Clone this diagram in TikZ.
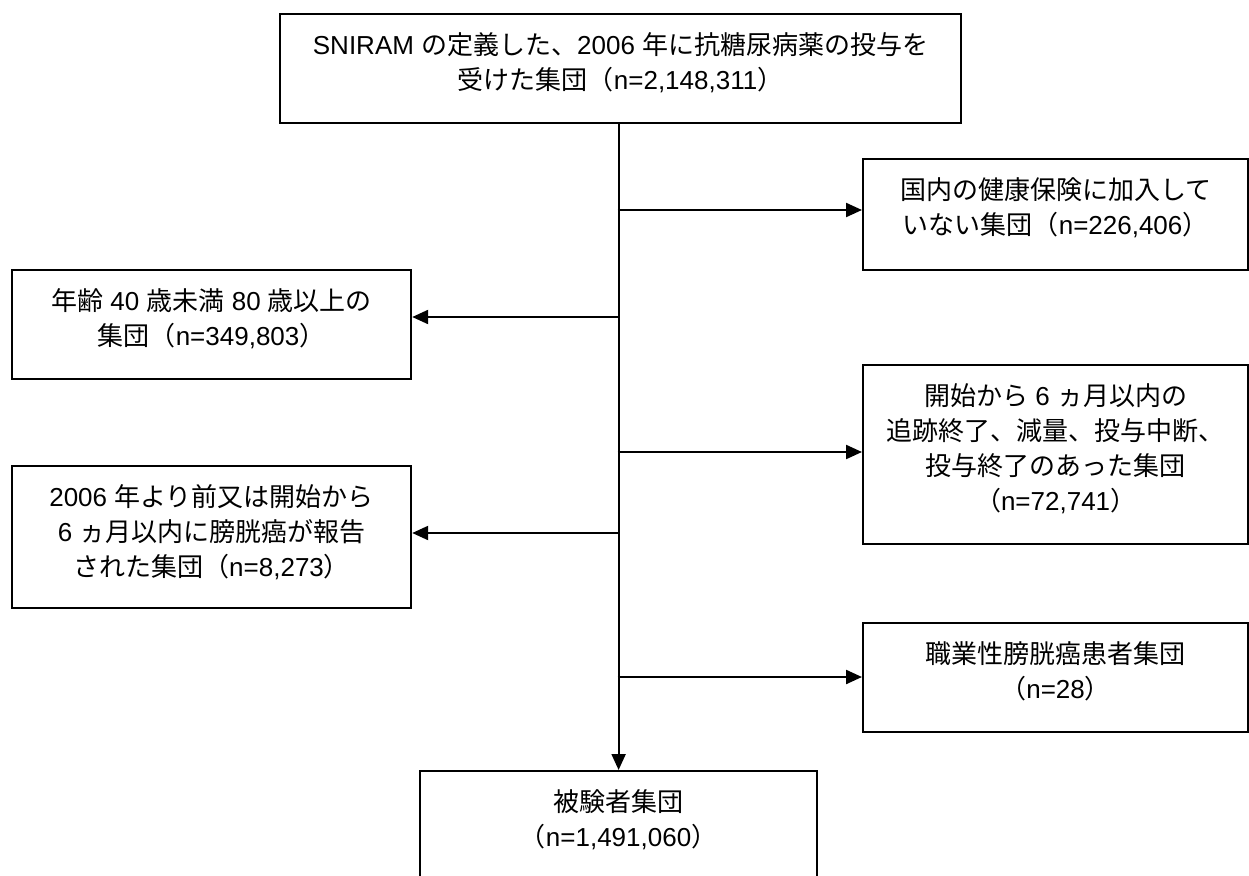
\documentclass[tikz,border=0pt]{standalone}
\usepackage{fontspec}
\setmainfont{Liberation Sans}
\newfontfamily\jpfont{Noto Sans CJK JP}
\newcommand\cj[1]{{\jpfont #1}}
\usetikzlibrary{arrows.meta}
\newcommand\bxt[3]{\parbox[c][#2][t]{#1}{\centering\rule{0pt}{40pt}#3}}
\begin{document}
\begin{tikzpicture}[x=1pt,y=-1pt,
  box/.style={draw, line width=2.2pt, inner sep=0pt, anchor=north west, font=\fontsize{26}{35}\selectfont},
  arr/.style={line width=2.2pt, -{Triangle[length=16pt,width=14pt]}}]
\useasboundingbox (0,0) rectangle (1249,875);
\clip (0,0) rectangle (1249,875);
\node[box] (top) at (279,13) {\bxt{681pt}{109pt}{SNIRAM \cj{の定義した、}2006 \cj{年に抗糖尿病薬の投与を}\\\cj{受けた集団（}n=2,148,311\cj{）}}};
\node[box] (r1) at (862,158) {\bxt{385pt}{111pt}{\cj{国内の健康保険に加入して}\\\cj{いない集団（}n=226,406\cj{）}}};
\node[box] (l1) at (11,269) {\bxt{399pt}{109pt}{\cj{年齢} 40 \cj{歳未満} 80 \cj{歳以上の}\\\cj{集団（}n=349,803\cj{）}}};
\node[box] (r2) at (862,364) {\bxt{385pt}{179pt}{\cj{開始から} 6 \cj{ヵ月以内の}\\\cj{追跡終了、減量、投与中断、}\\\cj{投与終了のあった集団}\\\cj{（}n=72,741\cj{）}}};
\node[box] (l2) at (11,465) {\bxt{399pt}{142pt}{2006 \cj{年より前又は開始から}\\6 \cj{ヵ月以内に膀胱癌が報告}\\\cj{された集団（}n=8,273\cj{）}}};
\node[box] (r3) at (862,622) {\bxt{385pt}{109pt}{\cj{職業性膀胱癌患者集団}\\\cj{（}n=28\cj{）}}};
\node[box] (bot) at (419,770) {\bxt{397pt}{140pt}{\cj{被験者集団}\\\cj{（}n=1,491,060\cj{）}}};
\coordinate (j1) at (617.5,210);
\coordinate (j2) at (617.5,317);
\coordinate (j3) at (617.5,452);
\coordinate (j4) at (617.5,533);
\coordinate (j5) at (617.5,677);
\draw[arr] (top.south -| bot.north) -- (bot.north);
\draw[arr] (j1) -- (j1 -| r1.west);
\draw[arr] (j2) -- (j2 -| l1.east);
\draw[arr] (j3) -- (j3 -| r2.west);
\draw[arr] (j4) -- (j4 -| l2.east);
\draw[arr] (j5) -- (j5 -| r3.west);
\end{tikzpicture}
\end{document}
